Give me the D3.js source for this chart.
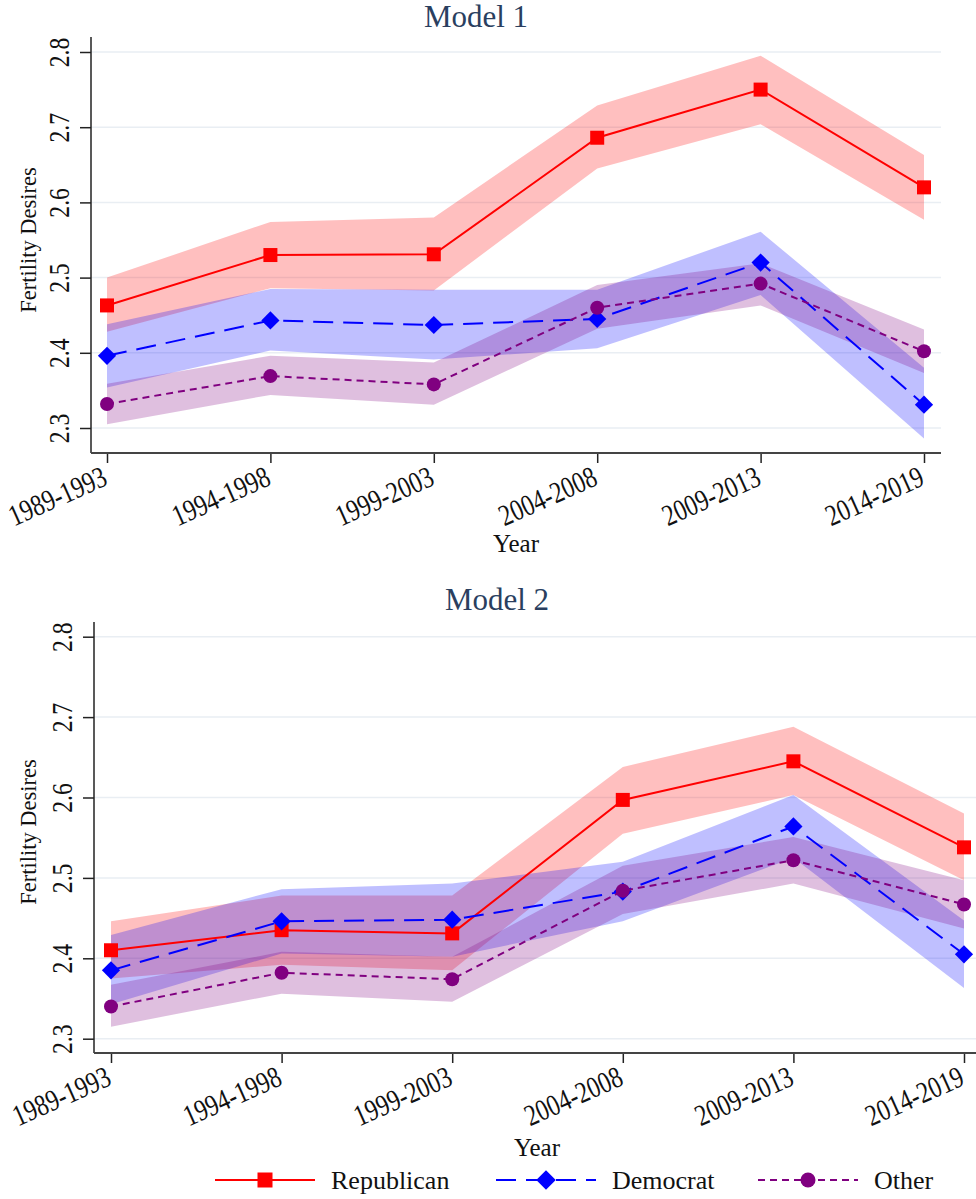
<!DOCTYPE html>
<html>
<head>
<meta charset="utf-8">
<script src="https://cdn.jsdelivr.net/npm/d3@7"></script>
<style>
  body { margin: 0; background: #fff; }
  svg { display: block; font-family: 'Liberation Serif', 'Times New Roman', serif; }
</style>
</head>
<body>
<div id="chart"></div>
<script>
const periods = ['1989-1993', '1994-1998', '1999-2003', '2004-2008', '2009-2013', '2014-2019']
const yTicks = [2.3, 2.4, 2.5, 2.6, 2.7, 2.8]
const groups = ['Republican', 'Democrat', 'Other']

// Model 1 (point estimate, lower and upper bound)
const m1Republican = [2.463, 2.530, 2.531, 2.686, 2.750, 2.620]
const m1RepublicanLo = [2.428, 2.486, 2.483, 2.645, 2.704, 2.577]
const m1RepublicanHi = [2.500, 2.574, 2.580, 2.729, 2.795, 2.663]
const m1Democrat = [2.396, 2.443, 2.437, 2.445, 2.520, 2.331]
const m1DemocratLo = [2.354, 2.403, 2.391, 2.406, 2.477, 2.286]
const m1DemocratHi = [2.438, 2.485, 2.484, 2.484, 2.561, 2.380]
const m1Other = [2.332, 2.369, 2.358, 2.460, 2.492, 2.402]
const m1OtherLo = [2.305, 2.344, 2.331, 2.432, 2.463, 2.373]
const m1OtherHi = [2.359, 2.396, 2.387, 2.490, 2.519, 2.431]

// Model 2
const m2Republican = [2.410, 2.435, 2.431, 2.597, 2.645, 2.538]
const m2RepublicanLo = [2.375, 2.392, 2.385, 2.555, 2.603, 2.497]
const m2RepublicanHi = [2.446, 2.478, 2.478, 2.638, 2.688, 2.580]
const m2Democrat = [2.385, 2.446, 2.448, 2.483, 2.564, 2.405]
const m2DemocratLo = [2.343, 2.406, 2.402, 2.446, 2.525, 2.363]
const m2DemocratHi = [2.429, 2.486, 2.493, 2.520, 2.603, 2.447]
const m2Other = [2.340, 2.382, 2.374, 2.484, 2.522, 2.467]
const m2OtherLo = [2.315, 2.356, 2.346, 2.455, 2.493, 2.437]
const m2OtherHi = [2.367, 2.408, 2.402, 2.515, 2.551, 2.497]

let styles = {
  Republican: { color: '#ff0000', band: 'rgba(255,0,0,0.25)', dash: null, marker: 'square' },
  Democrat: { color: '#0000ff', band: 'rgba(0,0,255,0.25)', dash: '20,10', marker: 'diamond' },
  Other: { color: '#800080', band: 'rgba(128,0,128,0.25)', dash: '7,5', marker: 'circle' }
}

let models = [
  {
    title: 'Model 1',
    series: {
      Republican: [m1Republican, m1RepublicanLo, m1RepublicanHi],
      Democrat: [m1Democrat, m1DemocratLo, m1DemocratHi],
      Other: [m1Other, m1OtherLo, m1OtherHi]
    },
    left: 91, right: 941, top: 37, bottom: 453, yLow: 428, yHigh: 52,
    x0: 107, x1: 924, titleX: 476, titleY: 27, yTitleY: 240, xTitleX: 516, xTitleY: 552
  },
  {
    title: 'Model 2',
    series: {
      Republican: [m2Republican, m2RepublicanLo, m2RepublicanHi],
      Democrat: [m2Democrat, m2DemocratLo, m2DemocratHi],
      Other: [m2Other, m2OtherLo, m2OtherHi]
    },
    left: 94, right: 976, top: 622, bottom: 1053, yLow: 1038.7, yHigh: 636.7,
    x0: 111, x1: 964, titleX: 497, titleY: 610, yTitleY: 832, xTitleX: 537, xTitleY: 1156
  }
]

let width = 976
let height = 1199

let svg = d3
  .select('#chart')
  .append('svg')
  .attr('width', width)
  .attr('height', height)

function drawMarker(sel, type, color, size) {
  if (type === 'square') {
    sel.append('rect')
      .attr('x', -size / 2).attr('y', -size / 2)
      .attr('width', size).attr('height', size)
      .attr('fill', color)
  } else if (type === 'diamond') {
    let r = size * 0.65
    sel.append('path')
      .attr('d', `M0,${-r}L${r},0L0,${r}L${-r},0Z`)
      .attr('fill', color)
  } else {
    sel.append('circle').attr('r', size / 2).attr('fill', color)
  }
}

models.forEach(m => {
  let g = svg.append('g')

  let yScale = d3.scaleLinear().domain([2.3, 2.8]).range([m.yLow, m.yHigh])
  yScale.domain([yScale.invert(m.bottom), yScale.invert(m.top)]).range([m.bottom, m.top])

  let xScale = d3.scalePoint().domain(periods).range([m.x0, m.x1])

  // gridlines
  g.selectAll('.grid')
    .data(yTicks)
    .enter()
    .append('line')
    .attr('x1', m.left)
    .attr('x2', m.right)
    .attr('y1', d => yScale(d))
    .attr('y2', d => yScale(d))
    .attr('stroke', '#e9eef3')
    .attr('stroke-width', 1.5)

  // confidence bands
  groups.forEach(name => {
    let [est, lo, hi] = m.series[name]
    let area = d3.area()
      .x((d, i) => xScale(periods[i]))
      .y0((d, i) => yScale(lo[i]))
      .y1((d, i) => yScale(hi[i]))
    g.append('path')
      .datum(est)
      .attr('d', area)
      .attr('fill', styles[name].band)
  })

  // lines + markers
  groups.forEach(name => {
    let est = m.series[name][0]
    let s = styles[name]
    let line = d3.line()
      .x((d, i) => xScale(periods[i]))
      .y(d => yScale(d))
    g.append('path')
      .datum(est)
      .attr('d', line)
      .attr('fill', 'none')
      .attr('stroke', s.color)
      .attr('stroke-width', 2)
      .attr('stroke-dasharray', s.dash)

    est.forEach((d, i) => {
      let mk = g.append('g')
        .attr('transform', `translate(${xScale(periods[i])},${yScale(d)})`)
      drawMarker(mk, s.marker, s.color, 14)
    })
  })

  // y axis
  let yAxis = g.append('g')
    .attr('transform', `translate(${m.left},0)`)
    .call(d3.axisLeft(yScale).tickValues(yTicks).tickSize(11).tickFormat(d3.format('.1f')))
  yAxis.select('.domain').remove()
  yAxis.selectAll('.tick line').attr('stroke', '#222').attr('stroke-width', 1.5)
  yAxis.selectAll('.tick text')
    .attr('x', 0)
    .attr('dy', 0)
    .attr('text-anchor', 'middle')
    .attr('transform', 'translate(-22,0) rotate(-90) scale(0.8,1)')
    .attr('font-family', 'Liberation Serif')
    .attr('font-size', 29.5)
    .attr('fill', '#111')
  g.append('line')
    .attr('x1', m.left).attr('x2', m.left)
    .attr('y1', m.top).attr('y2', m.bottom)
    .attr('stroke', '#222').attr('stroke-width', 1.5)

  // x axis
  let xAxis = g.append('g')
    .attr('transform', `translate(0,${m.bottom})`)
    .call(d3.axisBottom(xScale).tickSize(10))
  xAxis.select('.domain').remove()
  xAxis.selectAll('.tick line').attr('stroke', '#222').attr('stroke-width', 1.5)
  xAxis.selectAll('.tick text')
    .attr('x', 0)
    .attr('y', 0)
    .attr('dy', '0.7em')
    .attr('text-anchor', 'end')
    .attr('transform', 'translate(-7,12) rotate(-24) scale(0.8,1)')
    .attr('font-family', 'Liberation Serif')
    .attr('font-size', 30)
    .attr('fill', '#111')
  g.append('line')
    .attr('x1', m.left).attr('x2', m.right)
    .attr('y1', m.bottom).attr('y2', m.bottom)
    .attr('stroke', '#444').attr('stroke-width', 2)

  // titles
  g.append('text')
    .attr('x', m.titleX)
    .attr('y', m.titleY)
    .attr('text-anchor', 'middle')
    .attr('font-size', 31)
    .attr('fill', '#2a3f5f')
    .text(m.title)

  g.append('text')
    .attr('transform', `translate(36,${m.yTitleY}) rotate(-90)`)
    .attr('text-anchor', 'middle')
    .attr('font-size', 22.5)
    .attr('fill', '#111')
    .text('Fertility Desires')

  g.append('text')
    .attr('x', m.xTitleX)
    .attr('y', m.xTitleY)
    .attr('text-anchor', 'middle')
    .attr('font-size', 25)
    .attr('fill', '#111')
    .text('Year')
})

// legend
let legendX = [215, 496, 758]
let legend = svg.append('g')
groups.forEach((name, i) => {
  let s = styles[name]
  let lg = legend.append('g').attr('transform', `translate(${legendX[i]},1180)`)
  lg.append('line')
    .attr('x1', 0).attr('x2', 100)
    .attr('stroke', s.color)
    .attr('stroke-width', 2)
    .attr('stroke-dasharray', s.dash)
  let mk = lg.append('g').attr('transform', 'translate(50,0)')
  drawMarker(mk, s.marker, s.color, 15)
  lg.append('text')
    .attr('x', 116)
    .attr('y', 9)
    .attr('font-size', 26)
    .attr('fill', '#111')
    .text(name)
})
</script>
</body>
</html>
